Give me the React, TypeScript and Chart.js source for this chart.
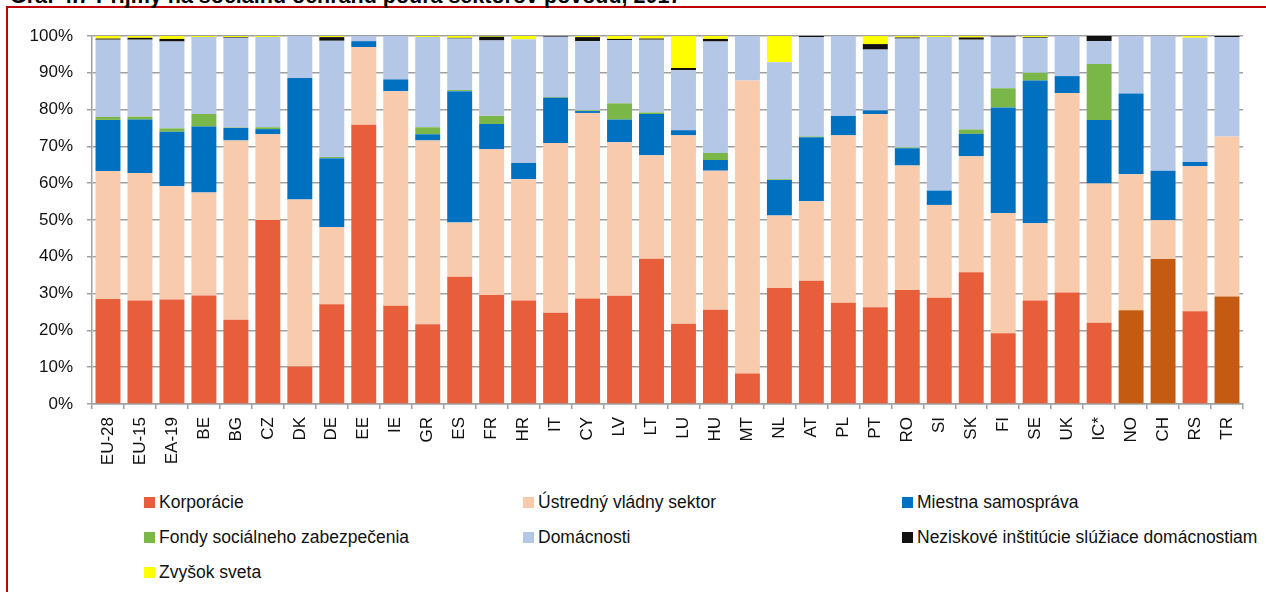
import React, { useEffect, useRef } from "react";
import { Chart, registerables } from "chart.js";

Chart.register(...registerables);

// ---------- DATA ----------
const categories = [
  "EU-28", "EU-15", "EA-19", "BE", "BG", "CZ", "DK", "DE", "EE", "IE", "GR", "ES",
  "FR", "HR", "IT", "CY", "LV", "LT", "LU", "HU", "MT", "NL", "AT", "PL",
  "PT", "RO", "SI", "SK", "FI", "SE", "UK", "IC*", "NO", "CH", "RS", "TR",
];

// Categories whose "Korporácie" bar is drawn in the darker shade
const darkerCategories = ["NO", "CH", "TR"];

const korporacie = [
  28.5, 28.1, 28.4, 29.5, 22.9, 50.0, 10.2, 27.1, 75.9, 26.7, 21.7, 34.6,
  29.6, 28.1, 24.8, 28.7, 29.4, 39.5, 21.8, 25.6, 8.3, 31.5, 33.5, 27.5,
  26.3, 31.0, 28.9, 35.8, 19.2, 28.1, 30.3, 22.1, 25.5, 39.4, 25.2, 29.2,
];
const ustrednyVladnySektor = [
  34.8, 34.7, 30.8, 28.0, 48.7, 23.3, 45.4, 21.0, 21.1, 58.3, 49.9, 14.7,
  39.6, 33.0, 46.1, 50.4, 41.7, 28.1, 51.2, 37.8, 79.6, 19.7, 21.6, 45.5,
  52.5, 33.8, 25.2, 31.5, 32.7, 21.0, 54.2, 37.8, 36.9, 10.5, 39.4, 43.5,
];
const miestnaSamosprava = [
  13.9, 14.5, 14.8, 17.9, 3.4, 1.4, 33.0, 18.7, 1.6, 3.2, 1.7, 35.7,
  6.9, 4.4, 12.3, 0.5, 6.2, 11.2, 1.4, 2.9, 0, 9.7, 17.4, 5.3,
  1.0, 4.7, 3.9, 6.1, 28.7, 38.8, 4.6, 17.3, 22.0, 13.5, 1.2, 0,
];
const fondySocialneho = [
  0.8, 0.8, 0.9, 3.4, 0.1, 0.5, 0, 0.3, 0, 0, 1.9, 0.3,
  2.2, 0, 0.2, 0.2, 4.4, 0.4, 0, 1.9, 0, 0.2, 0.2, 0,
  0, 0.2, 0, 1.2, 5.2, 2.1, 0, 15.2, 0, 0, 0, 0,
];
const domacnosti = [
  21.0, 20.9, 23.6, 20.9, 24.4, 24.5, 11.4, 31.6, 1.4, 11.8, 24.5, 14.0,
  20.5, 33.6, 16.4, 18.8, 17.2, 19.8, 16.3, 30.3, 12.1, 31.8, 27.0, 21.7,
  16.5, 29.6, 41.7, 24.4, 14.0, 9.5, 10.9, 6.2, 15.6, 36.6, 33.7, 27.0,
];
const neziskove = [
  0.3, 0.5, 0.7, 0, 0.2, 0, 0, 1.0, 0, 0, 0, 0.2,
  1.0, 0, 0.2, 1.1, 0.3, 0.3, 0.6, 0.7, 0, 0, 0.3, 0,
  1.5, 0.3, 0, 0.6, 0.2, 0.2, 0, 1.4, 0, 0, 0, 0.3,
];
const zvysokSveta = [
  0.7, 0.5, 0.8, 0.3, 0.3, 0.3, 0, 0.3, 0, 0, 0.3, 0.5,
  0.2, 0.9, 0, 0.3, 0.8, 0.7, 8.7, 0.8, 0, 7.1, 0, 0,
  2.2, 0.4, 0.3, 0.4, 0, 0.3, 0, 0, 0, 0, 0.5, 0,
];

const yTicks = [0, 10, 20, 30, 40, 50, 60, 70, 80, 90, 100];

const seriesNames = [
  "Korporácie",
  "Ústredný vládny sektor",
  "Miestna samospráva",
  "Fondy sociálneho zabezpečenia",
  "Domácnosti",
  "Neziskové inštitúcie slúžiace domácnostiam",
  "Zvyšok sveta",
];
const seriesValues = [
  korporacie,
  ustrednyVladnySektor,
  miestnaSamosprava,
  fondySocialneho,
  domacnosti,
  neziskove,
  zvysokSveta,
];

// ---------- STYLE ----------
const seriesColors = ["#E85E3A", "#F8CBAD", "#0070C0", "#7AB648", "#B4C7E7", "#111111", "#FFFF00"];
const DARK_KORP = "#C55A11";
const GRID = "#a0a0a0";
const FONT_FAMILY = "'Liberation Sans', Arial, Helvetica, sans-serif";
const TEXT = "#111111";

// legend layout: 3 columns
const legendCols = [136, 515, 894];
const legendRows = [494, 529.5, 564.5];

export default function App() {
  const canvasRef = useRef<HTMLCanvasElement | null>(null);

  useEffect(() => {
    if (!canvasRef.current) return;
    const datasets = seriesNames.map((name, i) => ({
      label: name,
      data: seriesValues[i],
      backgroundColor:
        i === 0
          ? categories.map((c) => (darkerCategories.includes(c) ? DARK_KORP : seriesColors[0]))
          : seriesColors[i],
      borderWidth: 0,
      categoryPercentage: 1,
      barPercentage: 0.78,
    }));

    const chart = new Chart(canvasRef.current, {
      type: "bar",
      data: { labels: categories, datasets },
      options: {
        animation: false,
        responsive: false,
        maintainAspectRatio: false,
        layout: { padding: { left: 0, top: 28, right: 23, bottom: 0 } },
        plugins: {
          legend: { display: false },
          tooltip: { enabled: false },
          title: { display: false },
        },
        scales: {
          x: {
            stacked: true,
            grid: {
              display: true,
              drawOnChartArea: false,
              drawTicks: true,
              tickLength: 5,
              color: GRID,
              lineWidth: 1.5,
              offset: true,
            },
            border: { display: true, color: GRID, width: 1.5 },
            ticks: {
              font: { family: FONT_FAMILY, size: 17 },
              color: TEXT,
              minRotation: 90,
              maxRotation: 90,
              padding: 8,
              autoSkip: false,
            },
            afterFit: (scale: any) => {
              scale.height = 74;
            },
          },
          y: {
            stacked: true,
            min: 0,
            max: 100,
            afterBuildTicks: (scale: any) => {
              scale.ticks = yTicks.map((v) => ({ value: v }));
            },
            ticks: {
              stepSize: 10,
              callback: (v: any) => `${v}%`,
              font: { family: FONT_FAMILY, size: 17 },
              color: TEXT,
              padding: 14,
            },
            grid: { color: GRID, lineWidth: 1.5, tickLength: 5, drawTicks: true },
            border: { display: true, color: GRID, width: 1.5 },
            afterFit: (scale: any) => {
              scale.width = 84;
            },
          },
        },
      },
    });
    return () => chart.destroy();
  }, []);

  return (
    <div
      style={{
        position: "absolute",
        left: 6,
        top: 6,
        width: 1258,
        height: 584,
        boxSizing: "content-box",
        borderTop: "2px solid #C00000",
        borderLeft: "2px solid #C00000",
        fontFamily: FONT_FAMILY,
      }}
    >
      <div
        style={{
          position: "absolute",
          left: 2,
          top: -22.2,
          fontSize: 21.5,
          lineHeight: "21.5px",
          fontWeight: "bold",
          whiteSpace: "nowrap",
          color: "#000",
        }}
      >
        Graf 4.7 Príjmy na sociálnu ochranu podľa sektorov pôvodu, 2017
      </div>
      <canvas
        ref={canvasRef}
        width={1258}
        height={470}
        style={{ position: "absolute", left: 0, top: 0, display: "block" }}
      />
      {seriesNames.map((name, i) => {
        const col = i % 3;
        const row = Math.floor(i / 3);
        return (
          <div
            key={name}
            style={{
              position: "absolute",
              left: legendCols[col],
              top: legendRows[row] - 10,
              height: 20,
              display: "flex",
              alignItems: "center",
              whiteSpace: "nowrap",
              fontSize: 17.5,
              color: TEXT,
            }}
          >
            <span
              style={{
                display: "inline-block",
                width: 11,
                height: 11,
                background: seriesColors[i],
                marginRight: 4,
              }}
            />
            <span>{name}</span>
          </div>
        );
      })}
    </div>
  );
}
